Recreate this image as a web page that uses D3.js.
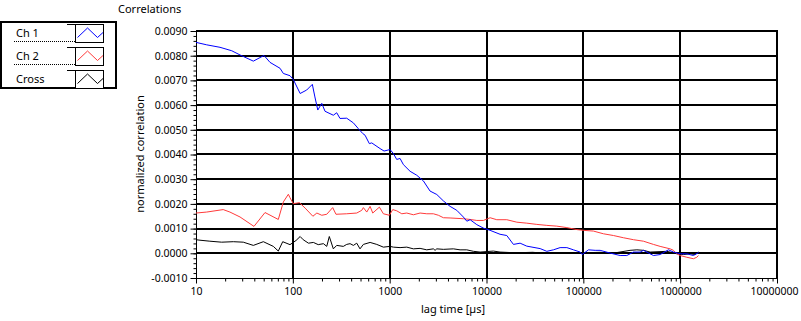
<!DOCTYPE html>
<html>
<head>
<meta charset="utf-8">
<script src="https://cdn.jsdelivr.net/npm/d3@7.9.0/dist/d3.min.js"></script>
<style>
  body { margin: 0; background: #fff; }
  svg { display: block; font-family: "Noto Sans", "Liberation Sans", sans-serif; font-size: 11px; }
</style>
</head>
<body>
<svg id="chart" width="801" height="321"></svg>
<script>
// lag times [µs] and normalized correlation
const ch1Lag = [10, 12.9, 17.7, 23.4, 28.5, 39.1, 50.4, 58.1, 73.8, 79.8, 93.5, 101, 119, 139, 159, 169, 181, 199, 215, 262, 284, 307, 360, 422, 474, 527, 557, 617, 653, 796, 875, 1009, 1092, 1183, 1280, 1386, 1625, 1905, 2230, 2612, 3066, 3589, 4207, 4932, 5768, 6266, 6776, 7943, 9290, 10890, 13800, 16200, 18970, 22230, 26060, 35800, 41980, 49100, 57540, 67600, 79070, 92700, 97300, 113000, 132500, 149000, 189000, 240000, 281000, 329000, 386000, 418000, 530000, 621000, 757000, 853000, 1000000, 1170000, 1370000, 1550000];
const ch1Corr = [0.00854, 0.00844, 0.00834, 0.00820, 0.00803, 0.00778, 0.00801, 0.00773, 0.00749, 0.00728, 0.00719, 0.00704, 0.00647, 0.00661, 0.00684, 0.00633, 0.00580, 0.00607, 0.00575, 0.00559, 0.00569, 0.00546, 0.00547, 0.00528, 0.00505, 0.00485, 0.00478, 0.00444, 0.00447, 0.00424, 0.00414, 0.00420, 0.00404, 0.00380, 0.00384, 0.00359, 0.00332, 0.00316, 0.00293, 0.00252, 0.00238, 0.00212, 0.00190, 0.00174, 0.00147, 0.00130, 0.00136, 0.00116, 0.00102, 0.00093, 0.00077, 0.00072, 0.00036, 0.00041, 0.00029, 0.00019, 0.00008, 0.00014, 0.00023, 0.00023, 0.00014, 0.00005, -0.00005, 0.00014, 0.00012, 0.00012, 0.00001, -0.00009, -0.00009, 0.00005, 0.00005, 0.00012, -0.00009, -0.00005, 0.00014, 0.00005, -0.00002, -0.00002, -0.00009, 0.00003];

const ch2Lag = [10, 12.9, 19.1, 22.4, 28.5, 39.7, 51.6, 70.8, 79.8, 89.9, 93.5, 101, 117, 134, 161, 177, 199, 224, 258, 279, 360, 457, 515, 535, 580, 628, 669, 783, 861, 993, 1076, 1183, 1334, 1502, 1758, 2061, 2416, 2827, 3184, 3589, 4207, 5768, 6776, 7943, 9290, 10890, 12770, 16200, 20560, 26060, 33100, 41980, 53200, 67600, 85700, 100200, 127100, 161400, 204600, 259400, 329600, 417800, 529700, 620900, 788300, 853000, 925000, 1000000, 1172000, 1371000, 1486000, 1545000];
const ch2Corr = [0.00163, 0.00167, 0.00177, 0.00167, 0.00147, 0.00109, 0.00165, 0.00137, 0.00208, 0.00239, 0.00225, 0.00201, 0.00205, 0.00183, 0.00150, 0.00163, 0.00154, 0.00158, 0.00185, 0.00158, 0.00160, 0.00163, 0.00174, 0.00185, 0.00167, 0.00190, 0.00163, 0.00187, 0.00160, 0.00154, 0.00177, 0.00172, 0.00160, 0.00163, 0.00156, 0.00163, 0.00160, 0.00160, 0.00154, 0.00144, 0.00143, 0.00140, 0.00137, 0.00133, 0.00133, 0.00144, 0.00136, 0.00136, 0.00126, 0.00122, 0.00117, 0.00113, 0.00110, 0.00104, 0.00096, 0.00093, 0.00090, 0.00079, 0.00072, 0.00063, 0.00055, 0.00049, 0.00036, 0.00028, 0.00018, 0.00012, -0.00002, -0.00009, -0.00016, -0.00022, -0.00016, -0.00009];

const crossLag = [10, 11, 13.9, 18.4, 24.3, 30.8, 39.1, 49.6, 62.9, 70.8, 78.6, 93.5, 108, 119, 128, 145, 163, 183, 207, 224, 238, 262, 284, 332, 360, 390, 422, 457, 494, 535, 628, 736, 861, 1009, 1092, 1280, 1502, 1758, 2061, 2416, 2827, 2944, 3066, 3589, 4550, 5333, 6252, 7328, 8590, 11780, 13800, 20000, 30000, 40000, 60000, 100000, 150000, 200000, 304000, 357000, 418000, 490000, 728000, 925000, 1080000, 1270000, 1430000, 1545000];
const crossCorr = [0.00055, 0.00053, 0.00049, 0.00045, 0.00047, 0.00045, 0.00032, 0.00047, 0.00028, 0.00009, 0.00047, 0.00035, 0.00052, 0.00068, 0.00055, 0.00041, 0.00044, 0.00035, 0.00039, 0.00028, 0.00068, 0.00018, 0.00032, 0.00028, 0.00036, 0.00039, 0.00032, 0.00041, 0.00018, 0.00036, 0.00044, 0.00036, 0.00025, 0.00028, 0.00025, 0.00023, 0.00025, 0.00018, 0.00020, 0.00014, 0.00018, 0.00012, 0.00018, 0.00016, 0.00018, 0.00014, 0.00014, 0.00008, 0.00005, 0.00009, 0.00005, 0.00002, 0.00004, 0.00000, 0.00001, 0.00002, 0.00004, 0.00000, 0.00012, 0.00014, 0.00012, 0.00005, 0.00008, -0.00002, -0.00005, -0.00002, -0.00005, 0.00005];

const seriesNames = ["Ch 1", "Ch 2", "Cross"];
const seriesColors = ["#0000ff", "#ff3a3a", "#000000"];
const xTicks = [10, 100, 1000, 10000, 100000, 1000000, 10000000];
const yTicks = [-0.001, 0, 0.001, 0.002, 0.003, 0.004, 0.005, 0.006, 0.007, 0.008, 0.009];

const svg = d3.select("#chart");

const x = d3.scaleLog().domain([10, 1e7]).range([196, 777]);
const y = d3.scaleLinear().domain([-0.001, 0.009]).range([278, 31]);

// grid
const grid = svg.append("g").attr("stroke", "#000").attr("stroke-width", 2);
grid.selectAll(".hg").data(yTicks.slice(1))
  .enter().append("line")
  .attr("x1", 196).attr("x2", 778)
  .attr("y1", d => Math.round(y(d))).attr("y2", d => Math.round(y(d)));
grid.selectAll(".vg").data(xTicks.slice(1))
  .enter().append("line")
  .attr("y1", 30).attr("y2", 278)
  .attr("x1", d => Math.round(x(d))).attr("x2", d => Math.round(x(d)));

// y axis
const yMinor = d3.range(-5, 46).map(i => i / 5000);
svg.append("g").attr("transform", "translate(196.5,0)")
  .call(d3.axisLeft(y).tickValues(yMinor).tickSize(3).tickFormat(""))
  .call(g => g.select(".domain").remove());
svg.append("g").attr("class", "yaxis").attr("transform", "translate(196.5,0)")
  .call(d3.axisLeft(y).tickValues(yTicks).tickSize(6).tickPadding(3)
    .tickFormat(d => d.toFixed(4)))
  .call(g => g.select(".domain").remove());
svg.append("line").attr("x1", 196.5).attr("x2", 196.5).attr("y1", 30).attr("y2", 283)
  .attr("stroke", "#000");

// x axis
const xMinor = [];
for (let d = 10; d < 1e7; d *= 10) for (let k = 2; k < 10; k++) xMinor.push(d * k);
svg.append("g").attr("transform", "translate(0,278.5)")
  .call(d3.axisBottom(x).tickValues(xMinor).tickSize(3).tickFormat(""))
  .call(g => g.select(".domain").remove());
svg.append("g").attr("class", "xaxis").attr("transform", "translate(0,278.5)")
  .call(d3.axisBottom(x).tickValues(xTicks).tickSize(5).tickPadding(4).tickFormat(d3.format("d")))
  .call(g => g.select(".domain").remove());
svg.append("line").attr("x1", 196).attr("x2", 778).attr("y1", 278.5).attr("y2", 278.5)
  .attr("stroke", "#000");

svg.selectAll(".tick text").attr("fill", "#000").style("font-size", "10.5px")
  .style("font-family", "'Noto Sans', 'Liberation Sans', sans-serif");
svg.selectAll(".tick line").attr("stroke", "#000");
// keep the last x label inside the window
svg.selectAll(".xaxis .tick text").filter(d => d === 1e7).attr("dx", -3);

// series
const line = d3.line().x(d => x(d[0])).y(d => y(d[1]));
const series = [
  d3.zip(ch1Lag, ch1Corr),
  d3.zip(ch2Lag, ch2Corr),
  d3.zip(crossLag, crossCorr)
];
// draw cross first, then red, then blue on top
[2, 1, 0].forEach(i => {
  svg.append("path").datum(series[i])
    .attr("d", line)
    .attr("fill", "none")
    .attr("stroke", seriesColors[i])
    .attr("stroke-width", 1);
});

// labels
svg.append("text").attr("x", 118).attr("y", 13).text("Correlations");
svg.append("text").attr("transform", "translate(144,154) rotate(-90)")
  .attr("text-anchor", "middle").text("normalized correlation");
svg.append("text").attr("x", 453).attr("y", 313).attr("text-anchor", "middle")
  .text("lag time [µs]");

// legend
const legend = svg.append("g");
legend.append("rect").attr("x", 1).attr("y", 22).attr("width", 115).attr("height", 66)
  .attr("fill", "#fff").attr("stroke", "#000").attr("stroke-width", 2);
seriesNames.forEach((name, i) => {
  const top = 24 + i * 23;
  const row = legend.append("g");
  row.append("text").attr("x", 16).attr("y", top + 13).text(name);
  row.append("line").attr("x1", 14).attr("x2", 75).attr("y1", top + 17.5).attr("y2", top + 17.5)
    .attr("stroke", "#000").attr("stroke-dasharray", "1,1");
  row.append("line").attr("x1", 67).attr("x2", 75).attr("y1", top + 0.5).attr("y2", top + 0.5)
    .attr("stroke", "#000");
  row.append("rect").attr("x", 75.5).attr("y", top + 0.5).attr("width", 28).attr("height", 18)
    .attr("fill", "#fff").attr("stroke", "#000");
  row.append("polyline")
    .attr("points", [[77.5, top + 13.5], [87.5, top + 4], [97.5, top + 13.5], [103, top + 8.5]].join(" "))
    .attr("fill", "none").attr("stroke", seriesColors[i]);
});
</script>
</body>
</html>
